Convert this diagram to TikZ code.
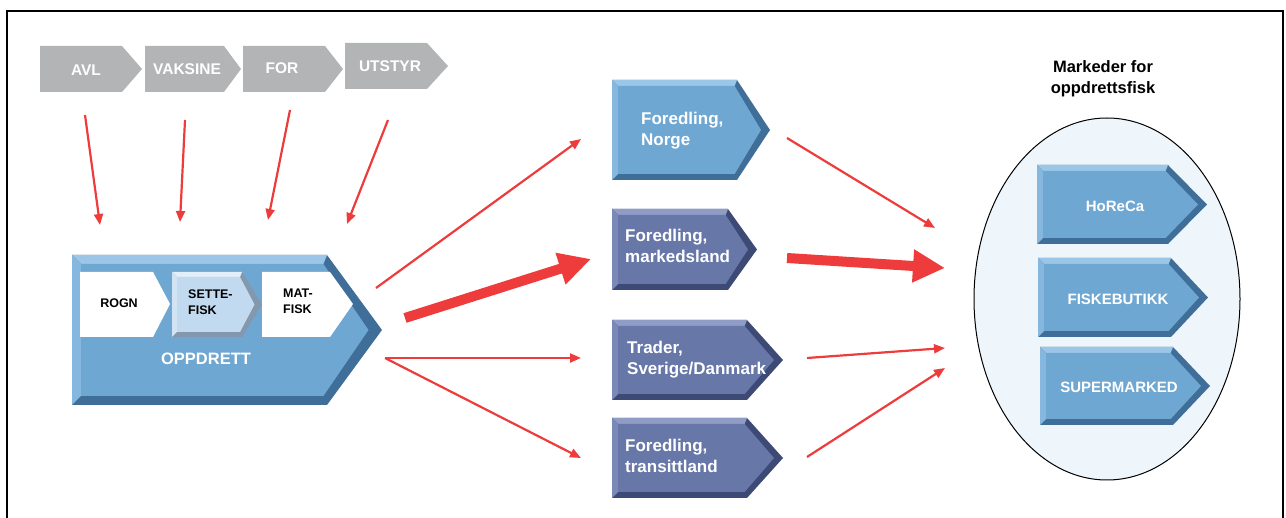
\documentclass[tikz,border=0pt]{standalone}
\usepackage{fontspec}
\setmainfont{Liberation Sans}
\usetikzlibrary{arrows.meta,shapes.geometric}
\definecolor{redA}{HTML}{EE3B3B}
\definecolor{grayC}{HTML}{B2B4B5}
\definecolor{blueM}{HTML}{6FA7D3}
\definecolor{blueL}{HTML}{9CC6E8}
\definecolor{blueD}{HTML}{3F6F99}
\definecolor{slateM}{HTML}{6777A8}
\definecolor{slateL}{HTML}{8E9CC6}
\definecolor{slateD}{HTML}{3E4A76}
\definecolor{setM}{HTML}{C2DAEF}
\definecolor{setL}{HTML}{E2EEF8}
\definecolor{setD}{HTML}{8398AD}
\definecolor{ellC}{HTML}{EEF6FC}
\newcommand{\bevchev}[8]{%
 \pgfmathsetmacro\ymid{(#2+#5)/2}%
 \fill[#8] (#1,#2) -- (#3,#2) -- (#4,\ymid) -- (#3,#5) -- (#1,#5) -- cycle;
 \fill[#7] (#1,#2) -- (#3,#2) -- ({#3-0.4*\bv},{#2+\bv}) -- ({#1+\bv},{#2+\bv}) -- cycle;
 \fill[#7!50!#6] (#1,#2) -- ({#1+\bv},{#2+\bv}) -- ({#1+\bv},{#5-\bv}) -- (#1,#5) -- cycle;
 \fill[#6] ({#1+\bv},{#2+\bv}) -- ({#3-0.4*\bv},{#2+\bv}) -- ({#4-1.5*\bv},\ymid) -- ({#3-0.4*\bv},{#5-\bv}) -- ({#1+\bv},{#5-\bv}) -- cycle;
}
\begin{document}
\begin{tikzpicture}[x=1pt,y=-1pt,
  toptxt/.style={text=white,font=\fontsize{15.5}{18}\selectfont\bfseries,inner sep=0pt},
  midtxt/.style={text=white,font=\fontsize{17}{21}\selectfont\bfseries,inner sep=0pt,align=left,anchor=west},
  mkttxt/.style={text=white,font=\fontsize{15}{18}\selectfont\bfseries,inner sep=0pt},
  intxt/.style={text=black,font=\fontsize{12.5}{16}\selectfont\bfseries,inner sep=0pt,align=left},
  thinarrow/.style={draw=redA,line width=2.2pt,-{Triangle[length=11pt,width=9pt]}},
  thickarrow/.style={draw=redA,line width=10pt,-{Triangle[length=32pt,width=31pt]}}]
\useasboundingbox (0,0) rectangle (1286,518);
% frame
\draw[line width=2pt] (7,518) -- (7,11) -- (1283,11) -- (1283,518);
% top grey chevrons
\fill[grayC] (40,46) -- (122,46) -- (142,69) -- (122,92) -- (40,92) -- cycle;
\fill[grayC] (145,46) -- (224,46) -- (241,69) -- (224,92) -- (145,92) -- cycle;
\fill[grayC] (243,46) -- (325,46) -- (343,69) -- (325,92) -- (243,92) -- cycle;
\fill[grayC] (345,43) -- (427,43) -- (448,66) -- (427,89) -- (345,89) -- cycle;
\node[toptxt] (avl) at (86,70) {AVL};
\node[toptxt] (vaksine) at (187,69) {VAKSINE};
\node[toptxt] (for) at (282,68) {FOR};
\node[toptxt] (utstyr) at (390,66) {UTSTYR};
% OPPDRETT
\def\bv{9}
\bevchev{72}{255}{327}{382}{405}{blueM}{blueL}{blueD}
\fill[white] (80,272) -- (153,272) -- (170,304) -- (153,337) -- (80,337) -- cycle;
\fill[white] (262,272) -- (330,272) -- (353,304) -- (330,337) -- (262,337) -- cycle;
\def\bv{5}
\bevchev{172}{272}{242}{262}{337}{setM}{setL}{setD}
\node[intxt] (rogn) at (119,303) {ROGN};
\node[intxt,anchor=west] (settefisk) at (188,302) {SETTE-\\FISK};
\node[intxt,anchor=west] (matfisk) at (283,301) {MAT-\\FISK};
\node[toptxt,font=\fontsize{16.5}{20}\selectfont\bfseries] (oppdrett) at (206,359) {OPPDRETT};
% middle chevrons
\def\bv{6}
\bevchev{612}{80}{737}{770}{180}{blueM}{blueL}{blueD}
\bevchev{612}{209}{728}{757}{290}{slateM}{slateL}{slateD}
\bevchev{612}{320}{747}{783}{400}{slateM}{slateL}{slateD}
\bevchev{612}{418}{747}{783}{498}{slateM}{slateL}{slateD}
\node[midtxt] (norge) at (641,131) {Foredling,\\Norge};
\node[midtxt] (marked) at (625,245.5) {Foredling,\\markedsland};
\node[midtxt] (trader) at (627,360) {Trader,\\Sverige/Danmark};
\node[midtxt] (transitt) at (625,456) {Foredling,\\transittland};
% markets
\node[text=black,font=\fontsize{16.5}{21}\selectfont\bfseries,inner sep=0pt,align=center] (title) at (1103,78.5) {Markeder for\\oppdrettsfisk};
\node[ellipse,draw=black,line width=1pt,fill=ellC,minimum width=266pt,minimum height=362pt,inner sep=0pt] (market) at (1107,299) {};
\bevchev{1037}{165}{1168}{1207}{244}{blueM}{blueL}{blueD}
\bevchev{1038}{258}{1171}{1208}{337}{blueM}{blueL}{blueD}
\bevchev{1040}{347}{1173}{1210}{425}{blueM}{blueL}{blueD}
\node[mkttxt] (horeca) at (1115,206) {HoReCa};
\node[mkttxt] (fiske) at (1118,299) {FISKEBUTIKK};
\node[mkttxt] (super) at (1119,387) {SUPERMARKED};
% arrow end points
\coordinate (avlS) at (85,115);   \coordinate (avlE) at (100,225);
\coordinate (vakS) at (185,120);  \coordinate (vakE) at (180,222);
\coordinate (forS) at (290,110);  \coordinate (forE) at (268,220);
\coordinate (utsS) at (388,120);  \coordinate (utsE) at (347,224);
\coordinate (oppA) at (376,288);  \coordinate (norIn) at (581,139);
\coordinate (oppB) at (405,318);  \coordinate (marIn) at (591,259);
\coordinate (oppC) at (385,358);  \coordinate (traIn) at (581,358);
\coordinate (tranIn) at (581,458);
\coordinate (norOut) at (787,138); \coordinate (mk1) at (935,228);
\coordinate (marOut) at (787,258); \coordinate (mk2) at (945,268);
\coordinate (traOut) at (807,358); \coordinate (mk3) at (945,348);
\coordinate (tranOut) at (807,457); \coordinate (mk4) at (945,368);
% arrows
\draw[thinarrow] (avlS) -- (avlE);
\draw[thinarrow] (vakS) -- (vakE);
\draw[thinarrow] (forS) -- (forE);
\draw[thinarrow] (utsS) -- (utsE);
\draw[thinarrow] (oppA) -- (norIn);
\draw[thickarrow] (oppB) -- (marIn);
\draw[thinarrow] (oppC) -- (traIn);
\draw[thinarrow] (oppC) -- (tranIn);
\draw[thinarrow] (norOut) -- (mk1);
\draw[thickarrow] (marOut) -- (mk2);
\draw[thinarrow] (traOut) -- (mk3);
\draw[thinarrow] (tranOut) -- (mk4);
\end{tikzpicture}
\end{document}
